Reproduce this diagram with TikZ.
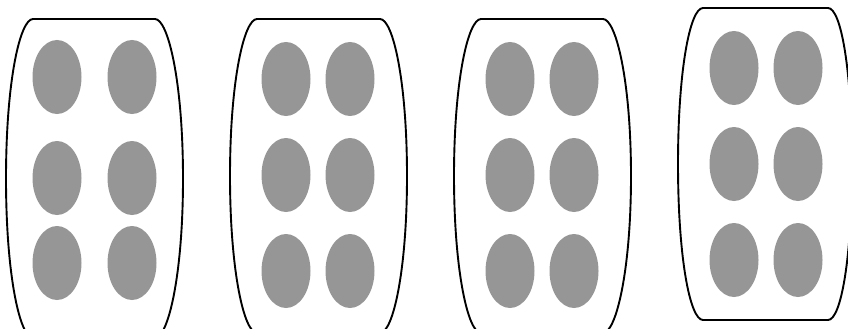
\documentclass[tikz,border=0pt]{standalone}
\usepackage{xcolor}
\usepackage{tikz}
\usetikzlibrary{calc}

\definecolor{pillgray}{RGB}{150,150,150}

\begin{document}
\begin{tikzpicture}[x=1pt, y=-1pt, line join=round,
  tray/.style={line width=1.9pt, black},
  pill/.style={fill=pillgray}]
  \useasboundingbox (0,0) rectangle (848,329);
  \clip (0,0) rectangle (848,329);
  % trays: top corners (a,t) (b,t), bottom y u, bulges l and r
  \foreach \a/\b/\t/\u/\l/\r in {33/155/19/338/6/183, 257/380/19/333/230/407,
                                  481/603/19/333/454/631, 703/828/8/320/678/852}{
    \pgfmathsetmacro{\m}{(\t+\u)/2}
    \draw[tray] (\a,\t) -- (\b,\t)
      .. controls ($(\b,\t)+(13,0)$) and ($(\r,\t)+(0,62)$) .. (\r,\m)
      .. controls ($(\r,\u)+(0,-62)$) and ($(\b,\u)+(13,0)$) .. (\b,\u)
      -- (\a,\u)
      .. controls ($(\a,\u)+(-13,0)$) and ($(\l,\u)+(0,-62)$) .. (\l,\m)
      .. controls ($(\l,\t)+(0,62)$) and ($(\a,\t)+(-13,0)$) .. cycle;
  }
  % pills
  \foreach \x/\y in {57/77, 132/77, 57/178, 132/178, 57/263, 132/263,
                     286/79, 350/79, 286/175, 350/175, 286/271, 350/271,
                     510/79, 574/79, 510/175, 574/175, 510/271, 574/271,
                     734/68, 798/68, 734/164, 798/164, 734/260, 798/260}
    \fill[pill] (\x,\y) ellipse (24.5 and 37);
\end{tikzpicture}
\end{document}
